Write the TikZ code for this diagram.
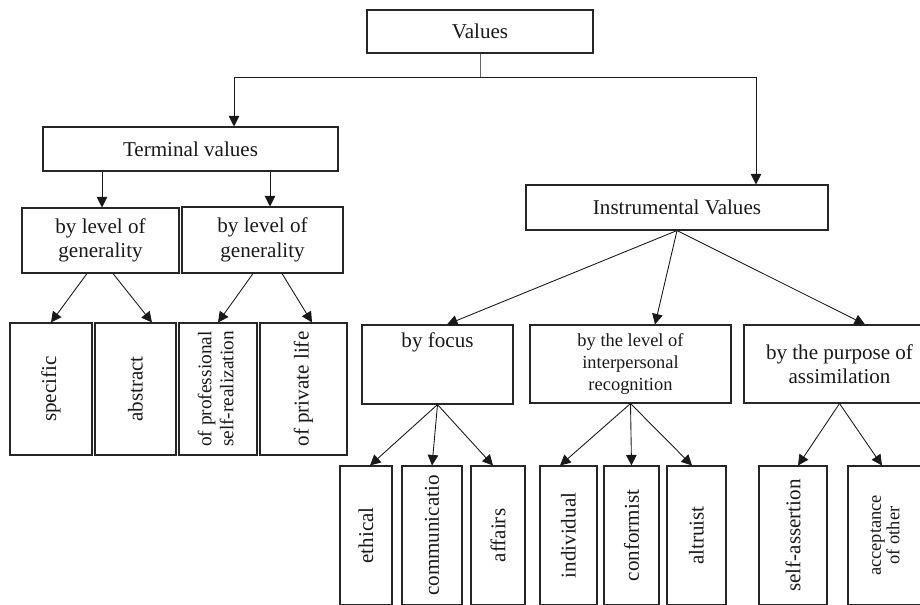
\documentclass[tikz,border=0pt]{standalone}
\usepackage{fontspec}
\setmainfont{Liberation Serif}
\usetikzlibrary{arrows.meta}

\begin{document}
\begin{tikzpicture}[
    box/.style={draw=black!85, line width=0.6pt, inner sep=0pt, align=center, text=black!90, font=\fontsize{12}{14}\selectfont},
    arr/.style={-{Triangle[width=6pt,length=6pt]}, line width=0.5pt, draw=black!90}]
        \useasboundingbox (0,0) rectangle (18.4,-12.08);
        \clip (0,0) rectangle (18.4,-12.08);
        \node[box, minimum width=4.52cm, minimum height=0.86cm] (v) at (9.6,-0.63) {Values};
        \node[box, minimum width=5.9cm, minimum height=0.88cm] (t) at (3.81,-2.98) {Terminal values};
        \node[box, minimum width=6.04cm, minimum height=0.9cm] (i) at (13.54,-4.15) {Instrumental Values};
        \node[box, minimum width=3.14cm, minimum height=1.3cm] (g1) at (2.01,-4.81) {by level of\\generality};
        \node[box, minimum width=3.22cm, minimum height=1.32cm] (g2) at (5.25,-4.8) {by level of\\generality};
        \node[box, minimum width=1.64cm, minimum height=2.64cm] (sp) at (1.02,-7.78) {\rotatebox{90}{specific}};
        \node[box, minimum width=1.62cm, minimum height=2.64cm] (ab) at (2.71,-7.78) {\rotatebox{90}{abstract}};
        \node[box, minimum width=1.56cm, minimum height=2.64cm] (pr) at (4.36,-7.78) {\rotatebox{90}{\fontsize{11}{12.5}\selectfont\begin{tabular}{@{}c@{}}of professional\\self-realization\end{tabular}}};
        \node[box, minimum width=1.74cm, minimum height=2.64cm] (pl) at (6.07,-7.78) {\rotatebox{90}{of private life}};
        \node[box, minimum width=3.02cm, minimum height=1.58cm] (f) at (8.75,-7.29) {by focus\\~\\~};
        \node[box, minimum width=4.02cm, minimum height=1.56cm, font=\fontsize{10.5}{12.3}\selectfont] (l) at (12.61,-7.28) {by the level of\\interpersonal\\recognition};
        \node[box, minimum width=3.82cm, minimum height=1.56cm] (p) at (16.79,-7.28) {by the purpose of\\assimilation};
        \node[box, minimum width=1.04cm, minimum height=2.78cm] (et) at (7.32,-10.71) {\rotatebox{90}{ethical}};
        \node[box, minimum width=1.2cm, minimum height=2.78cm] (co) at (8.64,-10.71) {\rotatebox{90}{communicatio}};
        \node[box, minimum width=1.08cm, minimum height=2.78cm] (af) at (9.96,-10.71) {\rotatebox{90}{affairs}};
        \node[box, minimum width=1.14cm, minimum height=2.78cm] (ind) at (11.37,-10.71) {\rotatebox{90}{individual}};
        \node[box, minimum width=1.1cm, minimum height=2.78cm] (cf) at (12.63,-10.71) {\rotatebox{90}{conformist}};
        \node[box, minimum width=1.18cm, minimum height=2.78cm] (al) at (13.93,-10.71) {\rotatebox{90}{altruist}};
        \node[box, minimum width=1.36cm, minimum height=2.78cm] (sa) at (15.86,-10.71) {\rotatebox{90}{self-assertion}};
        \node[box, minimum width=1.54cm, minimum height=2.78cm] (ac) at (17.73,-10.71) {\rotatebox{90}{\fontsize{10.5}{10.5}\selectfont\begin{tabular}{@{}c@{}}acceptance\\of other\end{tabular}}};
        \coordinate (s) at (9.6,-1.54);
        \coordinate (ts) at (4.68,-1.54);
        \coordinate (is) at (15.12,-1.54);
        \draw[line width=0.5pt, draw=black!60] (v) -- (s);
        \draw[arr] (s) -- (ts) -- (ts |- t.north);
        \draw[arr] (s) -- (is) -- (is |- i.north);
        \draw[arr] (t.south -| 2.04,0) -- (g1.north -| 2.04,0);
        \draw[arr] (t.south -| 5.4,0) -- (g2.north -| 5.4,0);
        \draw[arr] ([xshift=-0.27cm]g1.south) -- (sp.north);
        \draw[arr] ([xshift=0.25cm]g1.south) -- ([xshift=0.33cm]ab.north);
        \draw[arr] ([xshift=-0.19cm]g2.south) -- (pr.north);
        \draw[arr] ([xshift=0.39cm]g2.south) -- ([xshift=0.17cm]pl.north);
        \draw[arr] (i.south) -- ([xshift=0.19cm]f.north);
        \draw[arr] (i.south) -- ([xshift=0.49cm]l.north);
        \draw[arr] (i.south) -- ([xshift=0.51cm]p.north);
        \draw[arr] (f.south) -- ([xshift=0.08cm]et.north);
        \draw[arr] (f.south) -- (co.north);
        \draw[arr] (f.south) -- ([xshift=-0.1cm]af.north);
        \draw[arr] (l.south) -- ([xshift=-0.17cm]ind.north);
        \draw[arr] (l.south) -- (cf.north);
        \draw[arr] (l.south) -- ([xshift=-0.09cm]al.north);
        \draw[arr] (p.south) -- ([xshift=0.1cm]sa.north);
        \draw[arr] (p.south) -- ([xshift=-0.09cm]ac.north);
\end{tikzpicture}
\end{document}
